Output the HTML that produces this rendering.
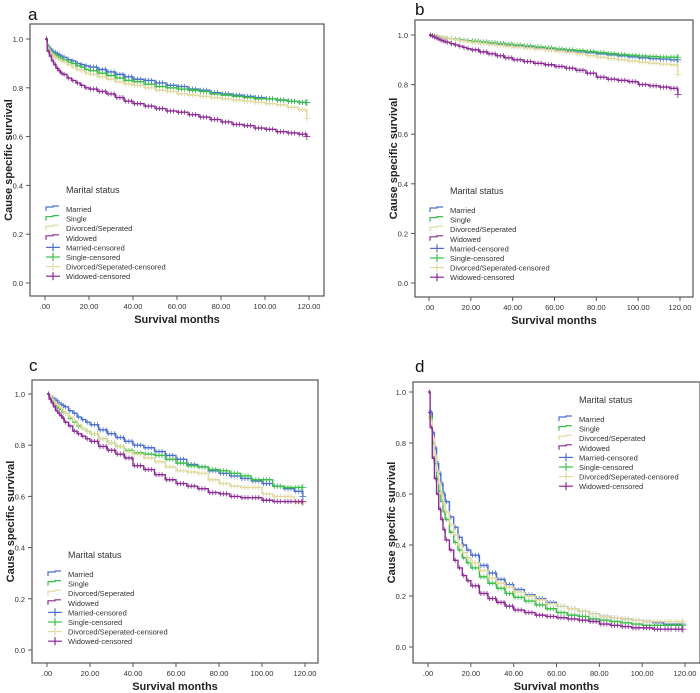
<!DOCTYPE html>
<html><head><meta charset="utf-8"><style>
html,body{margin:0;padding:0;background:#fff;width:700px;height:693px;overflow:hidden}
svg text{font-family:"Liberation Sans",Arial,sans-serif}
</style></head><body>
<svg id="chart" width="700" height="693" viewBox="0 0 700 693"></svg>
<script>
const months=[0,1,2,3,4,5,6,7,8,10,12,14,16,18,20,24,28,32,36,40,45,50,55,60,65,70,75,80,85,90,95,100,105,110,115,119];
const seriesNames=["Married","Single","Divorced/Seperated","Widowed"];
const yTicks=[0,0.2,0.4,0.6,0.8,1.0];
const yTickLabels=["0.0","0.2","0.4","0.6","0.8","1.0"];
const xTicks=[0,20,40,60,80,100,120];
const xTickLabels=[".00","20.00","40.00","60.00","80.00","100.00","120.00"];
const aMarried=[1,.97,.96,.95,.945,.94,.935,.93,.925,.915,.91,.90,.895,.89,.885,.875,.865,.855,.845,.835,.83,.82,.81,.805,.795,.79,.78,.775,.77,.765,.76,.755,.75,.745,.74,.74];
const aSingle=[1,.965,.95,.94,.935,.93,.925,.92,.915,.905,.90,.89,.885,.875,.87,.86,.85,.84,.83,.825,.815,.805,.80,.795,.79,.785,.775,.77,.765,.76,.755,.755,.75,.745,.74,.74];
const aDivorced=[1,.96,.945,.935,.925,.92,.915,.91,.905,.895,.885,.875,.87,.86,.855,.845,.835,.825,.815,.81,.80,.79,.785,.775,.77,.765,.76,.755,.75,.745,.74,.735,.73,.72,.71,.675];
const aWidowed=[1,.95,.93,.91,.895,.88,.87,.86,.855,.84,.83,.82,.81,.80,.795,.785,.775,.76,.745,.735,.725,.715,.705,.70,.69,.68,.67,.66,.65,.645,.635,.63,.62,.615,.61,.60];
const bMarried=[1,.998,.996,.994,.992,.99,.989,.988,.987,.985,.983,.981,.979,.977,.975,.971,.967,.963,.959,.955,.951,.947,.943,.94,.936,.932,.928,.924,.92,.916,.912,.908,.905,.903,.90,.90];
const bSingle=[1,.998,.996,.994,.992,.99,.989,.988,.987,.985,.983,.981,.979,.977,.975,.972,.969,.966,.963,.96,.956,.952,.948,.944,.94,.937,.933,.929,.925,.921,.918,.915,.913,.911,.91,.91];
const bDivorced=[1,.998,.996,.994,.992,.99,.989,.988,.987,.984,.981,.978,.976,.973,.97,.966,.962,.958,.955,.952,.948,.944,.94,.935,.93,.924,.917,.91,.905,.90,.895,.89,.886,.883,.88,.84];
const bWidowed=[1,.996,.992,.988,.984,.98,.977,.974,.971,.965,.96,.955,.95,.945,.94,.932,.924,.916,.908,.90,.893,.886,.88,.873,.866,.858,.846,.83,.822,.817,.812,.80,.795,.79,.785,.76];
const cMarried=[1,.99,.985,.98,.975,.965,.96,.955,.95,.935,.925,.91,.90,.89,.88,.86,.845,.83,.815,.80,.79,.775,.76,.745,.725,.715,.70,.69,.68,.67,.66,.65,.64,.63,.62,.60];
const cSingle=[1,.985,.975,.965,.955,.945,.94,.93,.925,.905,.89,.875,.865,.855,.845,.825,.81,.795,.78,.77,.765,.76,.745,.73,.72,.715,.705,.70,.69,.68,.665,.665,.64,.635,.635,.635];
const cDivorced=[1,.99,.98,.97,.96,.955,.945,.935,.925,.91,.895,.88,.865,.855,.845,.825,.81,.795,.775,.765,.75,.735,.715,.70,.695,.69,.665,.65,.64,.635,.635,.61,.60,.60,.575,.575];
const cWidowed=[1,.98,.965,.95,.935,.925,.915,.905,.89,.875,.855,.845,.835,.825,.815,.795,.78,.765,.75,.72,.705,.685,.665,.65,.64,.63,.615,.61,.60,.595,.595,.585,.58,.58,.58,.58];
const dMarried=[.92,.92,.84,.78,.72,.68,.64,.60,.57,.51,.47,.43,.40,.38,.36,.32,.29,.265,.245,.225,.205,.19,.175,.16,.15,.14,.13,.12,.115,.11,.105,.10,.095,.09,.09,.09];
const dSingle=[.90,.90,.80,.72,.66,.61,.57,.53,.50,.45,.41,.38,.35,.33,.31,.275,.25,.23,.21,.195,.18,.165,.15,.135,.125,.12,.11,.105,.10,.095,.09,.085,.085,.085,.085,.085];
const dDivorced=[.90,.89,.82,.75,.69,.64,.60,.56,.53,.48,.44,.40,.37,.35,.33,.30,.27,.25,.235,.215,.20,.185,.17,.16,.15,.14,.13,.12,.115,.11,.105,.10,.10,.10,.10,.10];
const dWidowed=[1.0,.86,.74,.66,.60,.54,.50,.46,.42,.38,.34,.31,.28,.26,.24,.21,.19,.175,.16,.145,.135,.125,.12,.115,.11,.105,.10,.09,.085,.08,.075,.075,.07,.07,.07,.07];

const colors=["#4a6fd0","#3cbf4a","#e0d9a0","#8b2a95"];
const NS="http://www.w3.org/2000/svg";
const svg=document.getElementById('chart');
function el(tag,attrs,parent,text){const e=document.createElementNS(NS,tag);for(const k in attrs)e.setAttribute(k,attrs[k]);if(text!==undefined)e.textContent=text;(parent||svg).appendChild(e);return e;}

const panels=[
 {id:"a",data:[aMarried,aSingle,aDivorced,aWidowed],frame:[30,24,324,296],x0:45,x1:309,y1:39,y0:283,lab:[28,20],leg:[46,193]},
 {id:"b",data:[bMarried,bSingle,bDivorced,bWidowed],frame:[415,20,693,297],x0:429,x1:680,y1:35,y0:283,lab:[415,15],leg:[430,194]},
 {id:"c",data:[cMarried,cSingle,cDivorced,cWidowed],frame:[32,380,318,663],x0:47,x1:305,y1:394,y0:650,lab:[29,371],leg:[48,558]},
 {id:"d",data:[dMarried,dSingle,dDivorced,dWidowed],frame:[413,382,700,663],x0:428,x1:685,y1:392,y0:647,lab:[415,372],leg:[559,403]}
];

panels.forEach(p=>{
  const g=el('g',{},svg);
  
  
  const xs=v=>p.x0+(p.x1-p.x0)*v/120;
  const ys=v=>p.y0+(p.y1-p.y0)*v;
  const t=el('text',{x:p.lab[0],y:p.lab[1],'font-size':17,fill:'#111'},g,p.id);
  
  
  const [fx0,fy0,fx1,fy1]=p.frame;
  const fr=el('rect',{x:fx0,y:fy0,width:fx1-fx0,height:fy1-fy0,fill:'none',stroke:'#555','stroke-width':1.2},g);
  
  
  yTicks.forEach((v,i)=>{
    el('line',{x1:fx0-4,x2:fx0,y1:ys(v),y2:ys(v),stroke:'#555'},g);
    const tl=el('text',{x:fx0-7,y:ys(v)+3,'font-size':7.5,'text-anchor':'end',fill:'#333'},g,yTickLabels[i]);
    
    
  });
  xTicks.forEach((v,i)=>{
    el('line',{x1:xs(v),x2:xs(v),y1:fy1,y2:fy1+4,stroke:'#555'},g);
    const tl=el('text',{x:xs(v),y:fy1+13,'font-size':7.5,'text-anchor':'middle',fill:'#333'},g,xTickLabels[i]);
    
    
  });
  const xt=el('text',{x:(fx0+fx1)/2,y:fy1+27,'font-size':11,'font-weight':'bold','text-anchor':'middle',fill:'#222'},g,'Survival months');
  
  
  const cy=(fy0+fy1)/2;
  const yt=el('text',{x:fx0-18,y:cy,'font-size':11,'font-weight':'bold','text-anchor':'middle',fill:'#222',transform:`rotate(-90 ${fx0-18} ${cy})`},g,'Cause specific survival');
  
  
  p.data.forEach((vals,si)=>{
    const n=Math.min(vals.length,months.length);
    let d=`M${xs(months[0])},${ys(vals[0])}`;
    for(let i=1;i<n;i++){d+=` H${xs(months[i])} V${ys(vals[i])}`;}
    const path=el('path',{d:d,fill:'none',stroke:colors[si],'stroke-width':1.4},g);
    
    
    const cg=el('g',{stroke:colors[si],'stroke-width':0.8},g);
    
    
    for(let i=1;i<n;i++){
      const xa=xs(months[i-1]),xb=xs(months[i]),yv=ys(vals[i-1]);
      for(let x=xa+1.5;x<xb-0.5;x+=3){el('line',{x1:x,x2:x,y1:yv-2.5,y2:yv+2.5},cg);}
    }
    const lx=xs(months[n-1]),lyv=ys(vals[n-1]);
    el('line',{x1:lx,x2:lx,y1:lyv-3.5,y2:lyv+3.5},cg);
    el('line',{x1:lx-3.5,x2:lx+3.5,y1:lyv,y2:lyv},cg);
  });
  const lg=el('g',{},g);
  
  
  const [lx,ly]=p.leg;
  el('text',{x:lx+20,y:ly,'font-size':9,fill:'#333'},lg,'Marital status');
  const labels=["Married","Single","Divorced/Seperated","Widowed","Married-censored","Single-censored","Divorced/Seperated-censored","Widowed-censored"];
  labels.forEach((lab,i)=>{
    const yy=ly+16+i*9.6;const c=colors[i%4];
    if(i<4){el('path',{d:`M${lx},${yy+2} V${yy-2} H${lx+7} V${yy-3} H${lx+13}`,fill:'none',stroke:c,'stroke-width':1.2},lg);}
    else{el('line',{x1:lx,x2:lx+14,y1:yy,y2:yy,stroke:c,'stroke-width':1.2},lg);el('line',{x1:lx+7,x2:lx+7,y1:yy-4,y2:yy+4,stroke:c,'stroke-width':1.2},lg);}
    const tx=el('text',{x:lx+20,y:yy+3,'font-size':7.5,fill:'#333'},lg,lab);
    
    
  });
});
</script>
</body></html>
